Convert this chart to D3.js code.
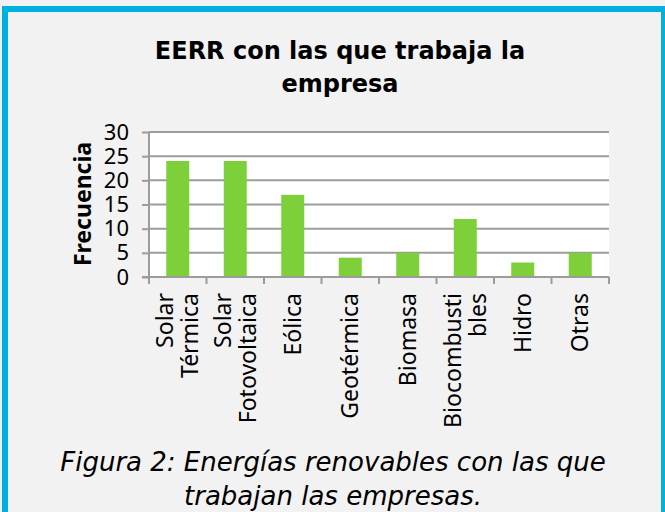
<!DOCTYPE html>
<html>
<head>
<meta charset="utf-8">
<script src="https://cdn.jsdelivr.net/npm/d3@7"></script>
<style>
  body { margin: 0; background: #f2f2f2; }
  svg { display: block; }
  .axis text { font-family: "Noto Sans", sans-serif; fill: #000; }
</style>
</head>
<body>
<svg id="chart" width="665" height="512"></svg>
<script>
// data
var categories = ["Solar\nTérmica", "Solar\nFotovoltaica", "Eólica", "Geotérmica",
                  "Biomasa", "Biocombusti\nbles", "Hidro", "Otras"];
var frecuencia = [24, 24, 17, 4, 5, 12, 3, 5];
var yTicks = [0, 5, 10, 15, 20, 25, 30];
var titleLines = ["EERR con las que trabaja la", "empresa"];
var captionLines = ["Figura 2: Energías renovables con las que", "trabajan las empresas."];

var data = categories.map(function(c, i) { return {cat: c, value: frecuencia[i]}; });

var plot = {left: 149, right: 609, top: 132, bottom: 277};

var svg = d3.select("#chart");

// blue frame
svg.append("rect")
    .attr("x", 5).attr("y", 9)
    .attr("width", 659).attr("height", 520)
    .attr("fill", "none")
    .attr("stroke", "#00b0e0")
    .attr("stroke-width", 6);

// scales
var x = d3.scaleBand()
    .domain(categories)
    .range([plot.left, plot.right])
    .paddingInner(0.6)
    .paddingOuter(0.3);

var y = d3.scaleLinear()
    .domain([0, 30])
    .range([plot.bottom, plot.top]);

// plot background
svg.append("rect")
    .attr("x", plot.left).attr("y", plot.top)
    .attr("width", plot.right - plot.left)
    .attr("height", plot.bottom - plot.top)
    .attr("fill", "#ffffff");

// gridlines
svg.append("g")
  .selectAll("line")
  .data(yTicks.filter(function(d) { return d > 0; }))
  .join("line")
    .attr("x1", plot.left).attr("x2", plot.right)
    .attr("y1", function(d) { return y(d); })
    .attr("y2", function(d) { return y(d); })
    .attr("stroke", "#9c9c9c")
    .attr("stroke-width", 2);

// bars
svg.append("g")
  .selectAll("rect")
  .data(data)
  .join("rect")
    .attr("x", function(d) { return x(d.cat); })
    .attr("y", function(d) { return y(d.value); })
    .attr("width", x.bandwidth())
    .attr("height", function(d) { return y(0) - y(d.value); })
    .attr("fill", "#7ed03b");

// y axis
var yAxis = svg.append("g")
    .attr("class", "axis")
    .attr("transform", "translate(" + plot.left + ",0)")
    .call(d3.axisLeft(y).tickValues(yTicks).tickSize(7).tickPadding(13));
yAxis.selectAll("line").attr("stroke", "#9c9c9c").attr("stroke-width", 2);
yAxis.select(".domain").attr("stroke", "#9c9c9c").attr("stroke-width", 2)
    .attr("d", "M0," + plot.top + "V" + plot.bottom);
yAxis.selectAll("text").style("font-size", "22px");

// x axis line and ticks at the band edges
var xAxis = svg.append("g").attr("class", "axis");
xAxis.append("line")
    .attr("x1", plot.left - 7).attr("x2", plot.right)
    .attr("y1", plot.bottom).attr("y2", plot.bottom)
    .attr("stroke", "#9c9c9c").attr("stroke-width", 2);
var edges = categories.map(function(c) { return x(c) - (x.step() - x.bandwidth()) / 2; });
edges.push(plot.right);
xAxis.selectAll(".tick")
  .data(edges)
  .join("line")
    .attr("class", "tick")
    .attr("x1", function(d) { return d; }).attr("x2", function(d) { return d; })
    .attr("y1", plot.bottom).attr("y2", plot.bottom + 7)
    .attr("stroke", "#9c9c9c").attr("stroke-width", 2);

// category labels, rotated
var labels = xAxis.selectAll(".lab")
  .data(categories)
  .join("text")
    .attr("class", "lab")
    .attr("transform", function(d) {
      return "translate(" + (x(d) + x.bandwidth() / 2) + "," + (plot.bottom + 16) + ") rotate(-90)";
    })
    .attr("text-anchor", "end")
    .style("font-size", "23px");
labels.each(function(d) {
  var lines = d.split("\n");
  var lh = 25;
  d3.select(this).selectAll("tspan")
    .data(lines)
    .join("tspan")
      .attr("x", 0)
      .attr("y", function(l, i) { return (i - (lines.length - 1) / 2) * lh; })
      .attr("dy", "0.35em")
      .text(function(l) { return l; });
});

// y axis title
svg.append("text")
    .attr("transform", "translate(91,204) rotate(-90)")
    .attr("text-anchor", "middle")
    .style("font-family", "'Noto Sans', sans-serif")
    .style("font-weight", "bold")
    .style("font-size", "23px")
    .text("Frecuencia");

// chart title
svg.append("g")
  .selectAll("text")
  .data(titleLines)
  .join("text")
    .attr("x", 340)
    .attr("y", function(d, i) { return 59 + i * 33; })
    .attr("text-anchor", "middle")
    .style("font-family", "'DejaVu Sans', sans-serif")
    .style("font-weight", "bold")
    .style("font-size", "24px")
    .text(function(d) { return d; });

// figure caption
svg.append("g")
  .selectAll("text")
  .data(captionLines)
  .join("text")
    .attr("x", 333)
    .attr("y", function(d, i) { return 471 + i * 34; })
    .attr("text-anchor", "middle")
    .style("font-family", "'DejaVu Sans', sans-serif")
    .style("font-style", "italic")
    .style("font-size", "26px")
    .text(function(d) { return d; });
</script>
</body>
</html>
